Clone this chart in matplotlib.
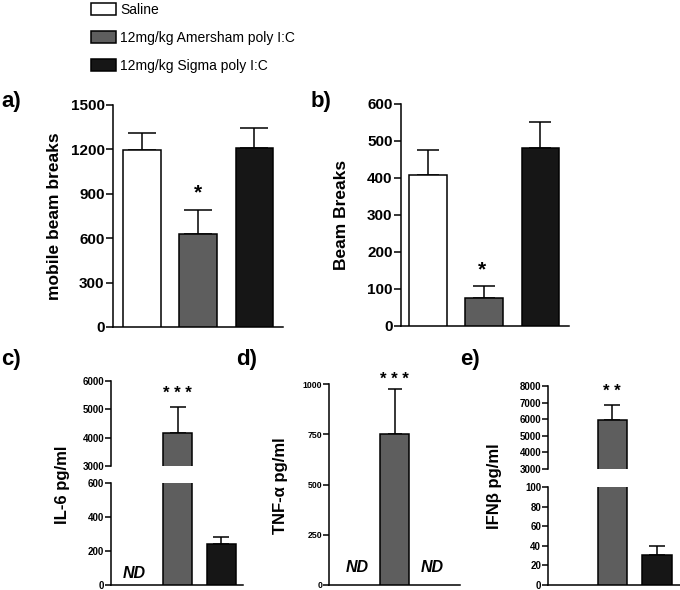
import numpy as np
import matplotlib
matplotlib.use("Agg")
import matplotlib.pyplot as plt
from matplotlib.patches import Patch

plt.rcParams['font.family'] = ['Liberation Sans', 'DejaVu Sans']
plt.rcParams['font.weight'] = 'bold'

groups = ["Saline", "12mg/kg Amersham poly I:C", "12mg/kg Sigma poly I:C"]
colors = ["white", "#5e5e5e", "#161616"]

a_means = [1195, 627, 1211]
a_sem = [118, 162, 131]
a_ticks = [0, 300, 600, 900, 1200, 1500]

b_means = [408, 77, 480]
b_sem = [67, 30, 71]
b_ticks = [0, 100, 200, 300, 400, 500, 600]

c_means = [np.nan, 4175, 244]
c_sem = [0, 897, 39]
c_ticks_low = [0, 200, 400, 600]
c_ticks_high = [3000, 4000, 5000, 6000]

d_means = [np.nan, 753, np.nan]
d_sem = [0, 222, 0]
d_ticks = [0, 250, 500, 750, 1000]

e_means = [np.nan, 5952, 31]
e_sem = [0, 903, 9]
e_ticks_low = [0, 20, 40, 60, 80, 100]
e_ticks_high = [3000, 4000, 5000, 6000, 7000, 8000]

W, H = 680, 590
fig = plt.figure(figsize=(W / 100, H / 100), dpi=100)


def rect(left, right, top, bottom):
    return [left / W, 1 - bottom / H, (right - left) / W, (bottom - top) / H]


def style(ax, ticks, fs, ticklen, bottom=True):
    for s in ['top', 'right']:
        ax.spines[s].set_visible(False)
    ax.spines['bottom'].set_visible(bottom)
    for s in ['left', 'bottom']:
        ax.spines[s].set_linewidth(1.1)
    ax.set_yticks(ticks)
    ax.set_yticklabels([str(t) for t in ticks], fontsize=fs, fontweight='bold')
    ax.tick_params(axis='y', length=ticklen, width=1.1, pad=1)
    ax.set_xticks([])


def draw_bars(ax, means, sems, capsize, width=0.67):
    for i, (m, s) in enumerate(zip(means, sems)):
        if np.isnan(m):
            continue
        ax.bar(i, m, width=width, color=colors[i], edgecolor='black',
               linewidth=1.1, zorder=3)
        ax.errorbar(i, m, yerr=[[0], [s]], color='black', capsize=capsize,
                    elinewidth=1.1, capthick=1.1, zorder=2)


# Panel a
ax_a = fig.add_axes(rect(113, 283, 105, 327))
draw_bars(ax_a, a_means, a_sem, 10)
ax_a.set_xlim(-0.52, 2.51)
ax_a.set_ylim(0, 1500)
style(ax_a, a_ticks, 11, 5)
fig.text(198 / W, 1 - 193 / H, "*", ha='center', va='center', fontsize=15, fontweight='bold')

# Panel b
ax_b = fig.add_axes(rect(401, 569, 104, 326))
draw_bars(ax_b, b_means, b_sem, 8)
ax_b.set_xlim(-0.48, 2.51)
ax_b.set_ylim(0, 600)
style(ax_b, b_ticks, 11, 5)
fig.text(482 / W, 1 - 270 / H, "*", ha='center', va='center', fontsize=15, fontweight='bold')

# Panel c (broken axis)
ax_c_hi = fig.add_axes(rect(111, 243, 381, 466))
ax_c_lo = fig.add_axes(rect(111, 243, 483, 585))
for ax in (ax_c_hi, ax_c_lo):
    draw_bars(ax, c_means, c_sem, 6)
    ax.set_xlim(-0.53, 2.5)
ax_c_hi.set_ylim(3000, 6000)
ax_c_lo.set_ylim(0, 600)
style(ax_c_hi, c_ticks_high, 7, 4, bottom=False)
style(ax_c_lo, c_ticks_low, 7, 4)
ax_c_lo.text(0, 0.11, "ND", transform=ax_c_lo.get_xaxis_transform(), ha='center',
             va='center', fontsize=11.5, fontweight='bold', fontstyle='italic')
fig.text(177.5 / W, 1 - 393 / H, "* * *", ha='center', va='center', fontsize=12, fontweight='bold')

# Panel d
ax_d = fig.add_axes(rect(329, 460, 384, 585))
draw_bars(ax_d, d_means, d_sem, 5, width=0.77)
ax_d.set_xlim(-0.75, 2.75)
ax_d.set_ylim(0, 1000)
style(ax_d, d_ticks, 6.3, 4)
for xi in (0, 2):
    ax_d.text(xi, 0.085, "ND", transform=ax_d.get_xaxis_transform(), ha='center',
              va='center', fontsize=11.5, fontweight='bold', fontstyle='italic')
fig.text(394.5 / W, 1 - 379 / H, "* * *", ha='center', va='center', fontsize=12, fontweight='bold')

# Panel e (broken axis)
ax_e_hi = fig.add_axes(rect(548, 680, 386, 469))
ax_e_lo = fig.add_axes(rect(548, 680, 487, 585))
for ax in (ax_e_hi, ax_e_lo):
    draw_bars(ax, e_means, e_sem, 6)
    ax.set_xlim(-0.45, 2.52)
ax_e_hi.set_ylim(3000, 8000)
ax_e_lo.set_ylim(0, 100)
style(ax_e_hi, e_ticks_high, 7, 4, bottom=False)
style(ax_e_lo, e_ticks_low, 7, 4)
fig.text(612 / W, 1 - 392 / H, "* *", ha='center', va='center', fontsize=12, fontweight='bold')

# Y labels
ylabs = [("mobile beam breaks", 55, 216, 12.5),
         ("Beam Breaks", 342, 215, 12.5),
         ("IL-6 pg/ml", 62, 485, 12),
         ("TNF-\u03b1 pg/ml", 280, 486, 12),
         ("IFN\u03b2 pg/ml", 495, 486, 12)]
for txt, x, y, fs in ylabs:
    fig.text(x / W, 1 - y / H, txt, rotation=90, ha='center', va='center',
             fontsize=fs, fontweight='bold')

# Panel letters
for txt, x, y in [("a)", 1, 101), ("b)", 311, 101), ("c)", 1, 360),
                  ("d)", 236, 360), ("e)", 460, 360)]:
    fig.text(x / W, 1 - y / H, txt, ha='left', va='center', fontsize=16, fontweight='bold')

# Legend
handles = [Patch(facecolor=c, edgecolor='black', linewidth=1.1) for c in colors]
leg = fig.legend(handles, groups, loc='upper left', bbox_to_anchor=(91 / W, 1 - 3 / H),
                 frameon=False, handlelength=1.8, handleheight=0.9,
                 handletextpad=0.3, labelspacing=1.0, borderpad=0, borderaxespad=0,
                 prop={'weight': 'normal', 'size': 10})

fig.savefig("out.png", dpi=100)
